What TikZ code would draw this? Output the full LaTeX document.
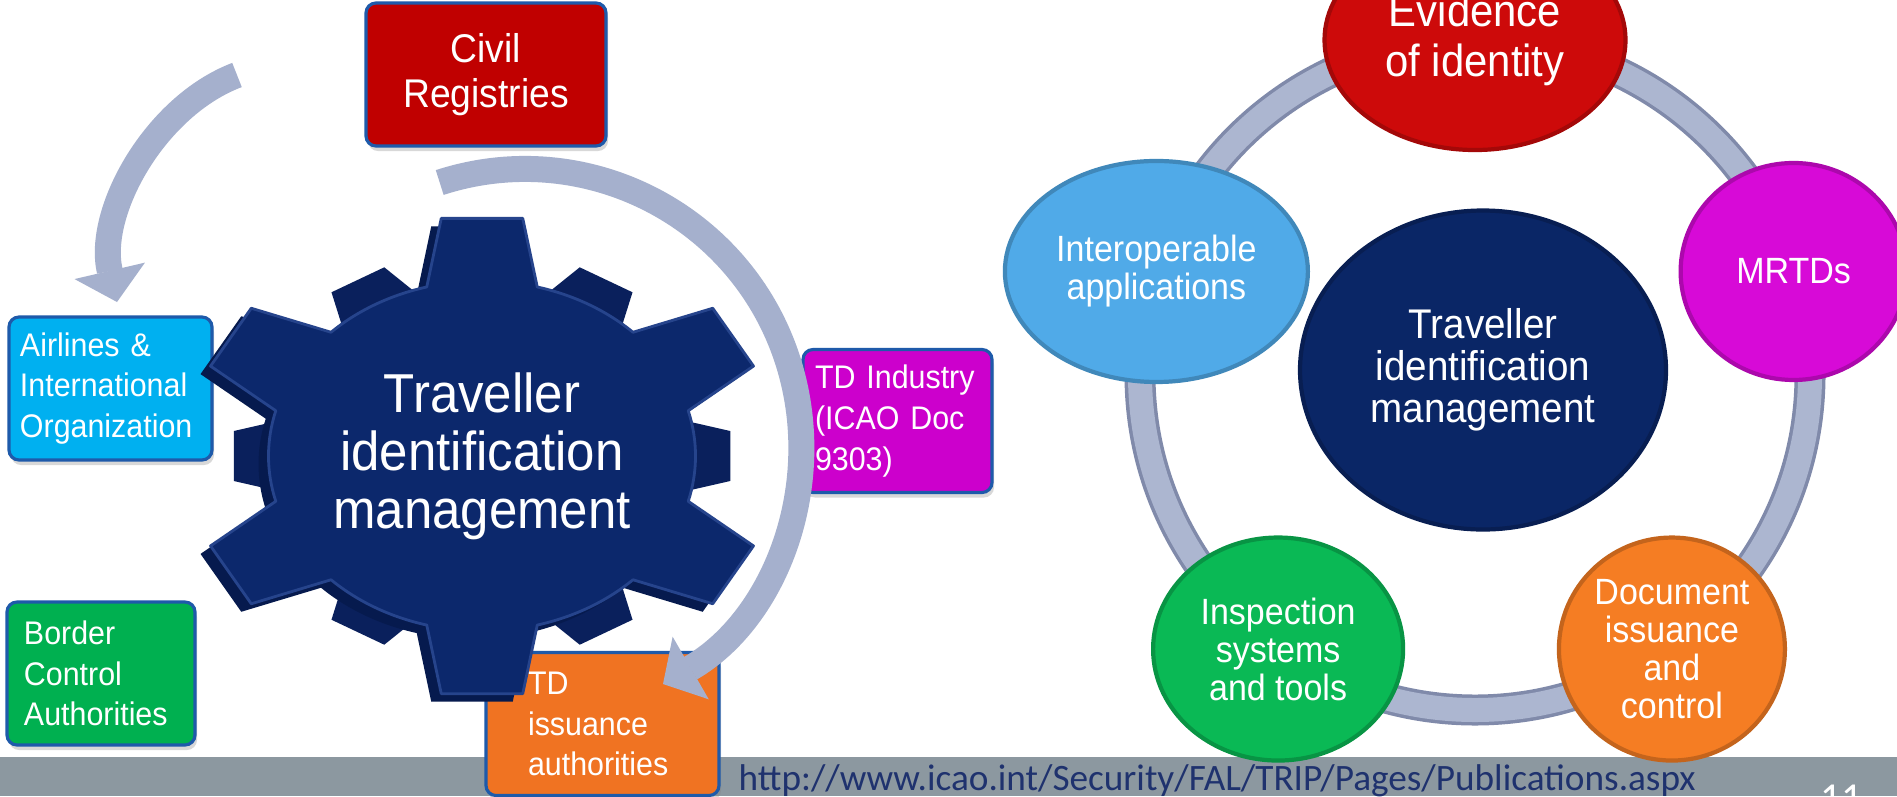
\documentclass[tikz,border=0pt]{standalone}
\usepackage{fontspec}
\setmainfont{Liberation Sans}[FakeStretch=0.93]
\newfontfamily\urlfont{Carlito}
\usetikzlibrary{calc,shapes.geometric,arrows.meta,shadows}

\hyphenpenalty=10000
\exhyphenpenalty=10000

\definecolor{civred}{RGB}{192,0,0}
\definecolor{boxedge}{RGB}{30,90,170}
\definecolor{airblue}{RGB}{0,176,240}
\definecolor{tdmag}{RGB}{204,0,204}
\definecolor{bordgreen}{RGB}{0,176,80}
\definecolor{issorange}{RGB}{240,115,34}
\definecolor{bargray}{RGB}{140,152,160}
\definecolor{urlblue}{RGB}{31,50,110}
\definecolor{arrowgray}{RGB}{165,176,205}
\definecolor{ringgray}{RGB}{172,182,208}
\definecolor{ringedge}{RGB}{128,138,170}
\definecolor{gearblue}{RGB}{12,40,108}
\definecolor{gearback}{RGB}{10,32,92}
\definecolor{gearshade}{RGB}{6,26,78}
\definecolor{gearedge}{RGB}{38,68,140}
\definecolor{evired}{RGB}{205,10,10}
\definecolor{mrtdmag}{RGB}{215,10,215}
\definecolor{docorange}{RGB}{245,125,35}
\definecolor{inspgreen}{RGB}{10,185,85}
\definecolor{interblue}{RGB}{80,170,232}
\definecolor{centnavy}{RGB}{10,38,102}

\newcommand{\gearfont}{\fontsize{15.6}{16.5}\selectfont}
\newcommand{\civfont}{\fontsize{11.4}{12.8}\selectfont}
\newcommand{\boxfont}{\fontsize{9.3}{11.6}\selectfont}
\newcommand{\evifont}{\fontsize{12.8}{14.2}\selectfont}
\newcommand{\ballfont}{\fontsize{10.4}{10.8}\selectfont}
\newcommand{\centfont}{\fontsize{11.8}{12}\selectfont}

\begin{document}
\begin{tikzpicture}[
	boxnode/.style={rectangle, rounded corners=0.1cm, draw=boxedge, line width=0.9pt,
		text=white, align=left, minimum height=1.43cm, font=\boxfont,
		drop shadow={shadow xshift=0.02cm, shadow yshift=-0.05cm, opacity=0.3}},
	ball/.style={ellipse, inner sep=0pt, text=white, align=center, font=\ballfont,
		fill=#1, draw=#1!80!black, line width=1.2pt},
	ringtube/.style={draw=ringgray, line width=0.24cm,
		preaction={draw=ringedge, line width=0.31cm}},
	bigarrow/.style={draw=arrowgray, line width=0.26cm,
		-{Triangle[width=0.72cm, length=0.32cm, line width=0.5pt]}},
	gearface/.style={fill=gearblue, draw=gearedge, line width=0.8pt, line join=round},
]

	% ---- parameters

	\def\gearr{1.75}
	\def\gearR{2.4}
	\def\backr{1.7}
	\def\backR{2.05}
	\def\ringr{3.35}
	\def\arcr{2.76}

	% ---- frame

	\useasboundingbox (0,0) rectangle (18.97,-7.96);
	\fill[white] (0,0) rectangle (18.97,-7.96);
	\fill[bargray] (0,-7.57) rectangle (18.97,-7.96);

	% ---- coordinates

	\coordinate (G) at (4.82,-4.56);
	\coordinate (C) at (5.25,-4.45);
	\coordinate (R) at (14.75,-3.75);

	\coordinate (l1) at (2.37,-0.75);
	\coordinate (l2) at (1.17,-3.02);
	\coordinate (r1) at ($(C)+(108:\arcr)$);

	% ---- boxes

	\node[boxnode, fill=civred, align=center, text width=2cm, inner xsep=0.2cm, font=\civfont]
		(civil) at (4.86,-0.745) {Civil\\Registries};
	\node[boxnode, fill=airblue, text width=1.81cm, inner xsep=0.11cm]
		(airl) at (1.105,-3.885) {Airlines \&\\International\\Organization};
	\node[boxnode, fill=tdmag, text width=1.65cm, inner xsep=0.12cm]
		(tdind) at (8.975,-4.21) {TD Industry\\(ICAO Doc\\9303)};
	\node[boxnode, fill=bordgreen, text width=1.54cm, inner xsep=0.17cm]
		(border) at (1.01,-6.735) {Border\\Control\\Authorities};
	\node[boxnode, fill=issorange, text width=1.49cm, inner xsep=0.42cm]
		(tdiss) at (6.025,-7.24) {TD\\issuance\\authorities};

	% ---- gear

	\begin{scope}[shift={(G)}, xscale=1.22]
		\fill[gearback] (-12:\backr) \foreach \a in {0,60,...,300} {
			-- (\a-12:\backr) -- (\a-7:\backR) -- (\a+7:\backR) -- (\a+12:\backr)
			arc[start angle=\a+12, end angle=\a+48, radius=\backr] } -- cycle;
	\end{scope}

	\begin{scope}[shift={($(G)+(-0.1,-0.08)$)}, xscale=1.22]
		\fill[gearshade] (75:\gearr) \foreach \a in {90,150,...,390} {
			-- (\a-15:\gearr) -- (\a-8:\gearR) -- (\a+8:\gearR) -- (\a+15:\gearr)
			arc[start angle=\a+15, end angle=\a+45, radius=\gearr] } -- cycle;
	\end{scope}

	\begin{scope}[shift={(G)}, xscale=1.22]
		\filldraw[gearface] (75:\gearr) \foreach \a in {90,150,...,390} {
			-- (\a-15:\gearr) -- (\a-8:\gearR) -- (\a+8:\gearR) -- (\a+15:\gearr)
			arc[start angle=\a+15, end angle=\a+45, radius=\gearr] } -- cycle;
	\end{scope}

	\node[text=white, align=center, font=\gearfont] (tim) at (G)
		{Traveller\\identification\\management};

	% ---- arrows

	\draw[bigarrow] (l1) .. controls (1.55,-1.06) and (0.96,-2.12) .. (l2);
	\draw[bigarrow] (r1) arc[start angle=108, end angle=-60, radius=\arcr];

	% ---- ring

	\draw[ringtube] (R) circle (\ringr);

	\node[ball=evired, minimum width=3.01cm, minimum height=2.2cm, font=\evifont]
		(evid) at ($(R)+(90:\ringr)$) {Evidence\\of identity};
	\node[ball=mrtdmag, minimum width=2.26cm, minimum height=2.17cm]
		(mrtd) at ($(R)+(18:\ringr)$) {MRTDs};
	\node[ball=docorange, minimum width=2.26cm, minimum height=2.23cm]
		(doc) at ($(R)+(-54:\ringr)+(0,-0.03)$) {Document\\issuance\\and\\control};
	\node[ball=inspgreen, minimum width=2.5cm, minimum height=2.23cm]
		(insp) at ($(R)+(-126:\ringr)+(0,-0.03)$) {Inspection\\systems\\and tools};
	\node[ball=interblue, minimum width=3.03cm, minimum height=2.21cm]
		(inter) at ($(R)+(162:\ringr)$) {Interoperable\\applications};
	\node[ball=centnavy, minimum width=3.66cm, minimum height=3.19cm, font=\centfont]
		(tim2) at (14.83,-3.70) {Traveller\\identification\\management};

	% ---- footer

	\node[anchor=base west, inner sep=0pt, text=urlblue, font=\urlfont\fontsize{10.6}{12}\selectfont]
		(url) at (7.38,-7.90) {http://www.icao.int/Security/FAL/TRIP/Pages/Publications.aspx};
	\node[anchor=base west, inner sep=0pt, text=white, font=\urlfont\fontsize{11.7}{12}\selectfont]
		(pgno) at (18.20,-8.11) {11};

\end{tikzpicture}
\end{document}
